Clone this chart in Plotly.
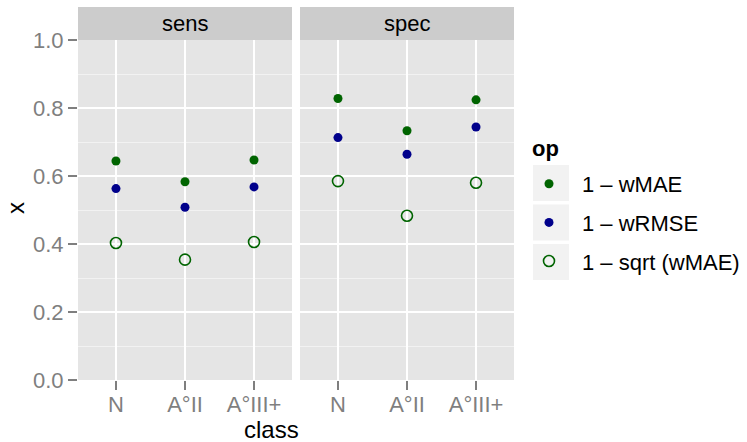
import plotly.graph_objects as go

classes = ["N", "A°II", "A°III+"]
facets = ["sens", "spec"]
ops = ["1 – wMAE", "1 – wRMSE", "1 – sqrt (wMAE)"]

sens_wmae = [0.644, 0.583, 0.647]
sens_wrmse = [0.563, 0.508, 0.568]
sens_sqrt = [0.403, 0.354, 0.406]
spec_wmae = [0.828, 0.733, 0.824]
spec_wrmse = [0.713, 0.664, 0.744]
spec_sqrt = [0.585, 0.483, 0.580]

y_ticks = [0.0, 0.2, 0.4, 0.6, 0.8, 1.0]
y_ticklabels = ["0.0", "0.2", "0.4", "0.6", "0.8", "1.0"]

W, H = 747, 442
L, R, T, B = 78, 514, 40, 380
pw = R - L
ph = B - T

GREEN = "#006400"
BLUE = "#00008B"
FONT = "Liberation Sans, Arial, sans-serif"
GREY50 = "#7F7F7F"
TICK = 22
TITLE = 24

styles = [
    dict(color=GREEN, symbol="circle", size=9, line=dict(width=0)),
    dict(color=BLUE, symbol="circle", size=9, line=dict(width=0)),
    dict(color=GREEN, symbol="circle-open", size=11, line=dict(width=1.6, color=GREEN)),
]

data = {
    "sens": [sens_wmae, sens_wrmse, sens_sqrt],
    "spec": [spec_wmae, spec_wrmse, spec_sqrt],
}

fig = go.Figure()
for fi, f in enumerate(facets):
    xa = "x" if fi == 0 else "x2"
    for oi, op in enumerate(ops):
        fig.add_trace(go.Scatter(
            x=classes, y=data[f][oi], mode="markers", name=op,
            xaxis=xa, yaxis="y", marker=styles[oi],
            legendgroup=op, showlegend=(fi == 0),
        ))

d1 = (292 - L) / pw
d2 = (300 - L) / pw

axis_common = dict(
    type="category", range=[-0.55, 2.55], showgrid=True, gridcolor="white",
    gridwidth=1.5, zeroline=False, ticks="outside", ticklen=9, tickwidth=1.5,
    tickcolor=GREY50, tickfont=dict(family=FONT, size=TICK, color=GREY50),
    showline=False, categoryorder="array", categoryarray=classes,
    ticklabelstandoff=-4,
)

fig.update_layout(
    width=W, height=H,
    margin=dict(l=L, r=W - R, t=T, b=H - B, pad=0, autoexpand=False),
    paper_bgcolor="white",
    plot_bgcolor="white",
    xaxis=dict(domain=[0, d1], **axis_common),
    xaxis2=dict(domain=[d2, 1], **axis_common),
    yaxis=dict(
        range=[0, 1], tickvals=y_ticks, ticktext=y_ticklabels,
        showgrid=True, gridcolor="white", gridwidth=1.5, zeroline=False,
        ticks="outside", ticklen=9, tickwidth=1.5, tickcolor=GREY50,
        tickfont=dict(family=FONT, size=TICK, color=GREY50),
        minor=dict(dtick=0.1, tick0=0, showgrid=True, gridcolor="#F2F2F2", gridwidth=0.7, ticks=""),
    ),
    showlegend=True,
    legend=dict(
        x=(516 - L) / pw, y=(B - 163) / ph, xanchor="left", yanchor="top",
        font=dict(family=FONT, size=TICK, color="black"),
        bgcolor="rgba(0,0,0,0)", tracegroupgap=7, itemwidth=56,
    ),
    font=dict(family=FONT),
)

# panel backgrounds and strips
shapes = []
for x0, x1 in [(0, d1), (d2, 1)]:
    shapes.append(dict(type="rect", xref="paper", yref="paper", x0=x0, x1=x1, y0=0, y1=1,
                       fillcolor="#E5E5E5", line=dict(width=0), layer="below"))
    shapes.append(dict(type="rect", xref="paper", yref="paper", x0=x0, x1=x1, y0=1, y1=1 + 33 / ph,
                       fillcolor="#CCCCCC", line=dict(width=0), layer="below"))
# legend key backgrounds
for top in [165, 204.5, 244]:
    shapes.append(dict(type="rect", xref="paper", yref="paper",
                       x0=(533 - L) / pw, x1=(569 - L) / pw,
                       y0=(B - top - 36) / ph, y1=(B - top) / ph,
                       fillcolor="#F2F2F2", line=dict(width=0), layer="below"))
fig.update_layout(shapes=shapes)

ann = []
for (x0, x1), f in zip([(0, d1), (d2, 1)], facets):
    ann.append(dict(text=f, xref="paper", yref="paper", x=(x0 + x1) / 2, y=1 + 16.5 / ph,
                    showarrow=False, font=dict(family=FONT, size=TICK, color="black"),
                    xanchor="center", yanchor="middle"))
ann.append(dict(text="class", xref="paper", yref="paper", x=(271 - L) / pw, y=(B - 429) / ph,
                showarrow=False, font=dict(family=FONT, size=TITLE, color="black"),
                xanchor="center", yanchor="middle"))
ann.append(dict(text="x", xref="paper", yref="paper", x=(15 - L) / pw, y=(B - 208) / ph,
                showarrow=False, font=dict(family=FONT, size=TITLE, color="black"),
                xanchor="center", yanchor="middle", textangle=-90))
ann.append(dict(text="<b>op</b>", xref="paper", yref="paper", x=(530 - L) / pw, y=(B - 148) / ph,
                showarrow=False, font=dict(family=FONT, size=TICK, color="black"),
                xanchor="left", yanchor="middle"))
fig.update_layout(annotations=ann)

fig.write_html("out.html")
